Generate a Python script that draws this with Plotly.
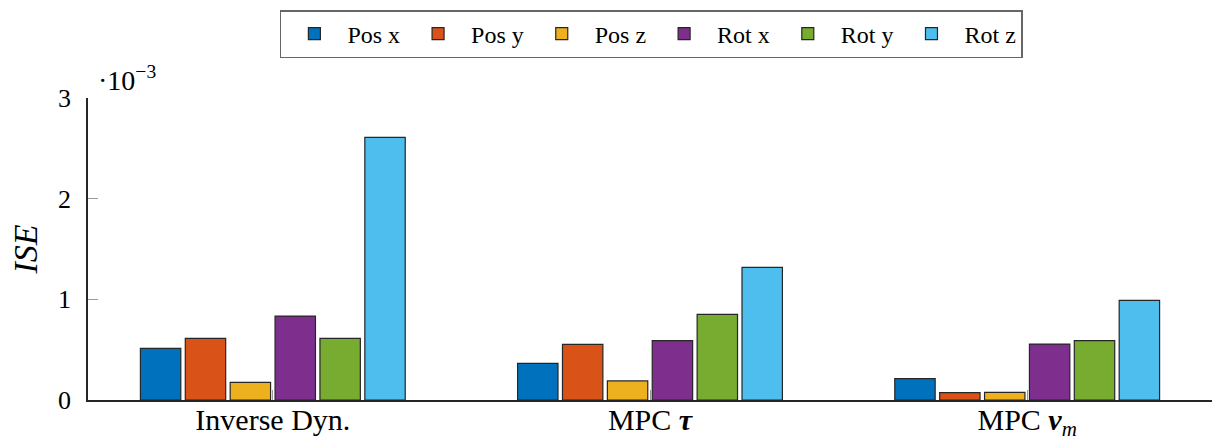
import plotly.graph_objects as go

categories = ["Inverse Dyn.", "MPC <b><i>τ</i></b>", "MPC <b><i>v</i></b><sub><i>m</i></sub>"]
series_names = ["Pos x", "Pos y", "Pos z", "Rot x", "Rot y", "Rot z"]
# ISE values in units of 1e-3
pos_x = [0.513, 0.364, 0.212]
pos_y = [0.613, 0.553, 0.074]
pos_z = [0.176, 0.189, 0.076]
rot_x = [0.834, 0.589, 0.556]
rot_y = [0.613, 0.851, 0.589]
rot_z = [2.609, 1.318, 0.990]
series_values = [pos_x, pos_y, pos_z, rot_x, rot_y, rot_z]
colors = ["#0072BD", "#D95319", "#EDB120", "#7E2F8E", "#77AC30", "#4DBEEE"]
y_ticks = [0, 1, 2, 3]

FONT = "Liberation Serif"

fig = go.Figure()
for name, vals, c in zip(series_names, series_values, colors):
    fig.add_trace(go.Bar(
        x=[0, 1, 2], y=vals, name=name,
        marker=dict(color=c, line=dict(color="#262626", width=1.2)),
    ))

fig.update_layout(
    width=1213, height=439,
    margin=dict(l=88, r=1, t=98, b=39, autoexpand=False),
    paper_bgcolor="white", plot_bgcolor="white",
    barmode="group", bargap=0.286, bargroupgap=0.1,
    font=dict(family=FONT, color="black", size=28),
    showlegend=True,
    legend=dict(
        orientation="h", x=0.537, xref="container", xanchor="center",
        y=0.977, yref="container", yanchor="top",
        bordercolor="#666666", borderwidth=1.5,
        font=dict(family=FONT, size=24, color="black"),
        itemwidth=56, tracegroupgap=0,
    ),
    xaxis=dict(
        range=[-0.49, 2.49], tickvals=[0, 1, 2], ticktext=categories,
        showline=True, linecolor="#262626", linewidth=1.5,
        ticks="inside", ticklen=10, tickcolor="#999999", tickwidth=1,
        showgrid=False, zeroline=False, automargin=False,
        ticklabelstandoff=-8,
        tickfont=dict(family=FONT, size=30, color="black"),
    ),
    yaxis=dict(
        range=[0, 3], tickvals=y_ticks, ticktext=[str(t) for t in y_ticks],
        showline=True, linecolor="#262626", linewidth=1.5,
        ticks="inside", ticklen=10, tickcolor="#999999", tickwidth=1,
        showgrid=False, zeroline=False, automargin=False,
        ticklabelstandoff=10,
        tickfont=dict(family=FONT, size=26, color="black"),
        title=dict(text="<i>ISE</i>", font=dict(family=FONT, size=34, color="black"), standoff=10),
    ),
    annotations=[dict(
        text="·10<sup>−3</sup>", xref="paper", yref="paper", x=0, y=1,
        xanchor="left", yanchor="bottom", xshift=8, yshift=0, showarrow=False,
        font=dict(family=FONT, size=28, color="black"),
    )],
)

fig.write_html(
    "out.html",
    config={"displayModeBar": False},
    post_script="document.body.style.margin='0px';document.body.style.overflow='hidden';",
)
